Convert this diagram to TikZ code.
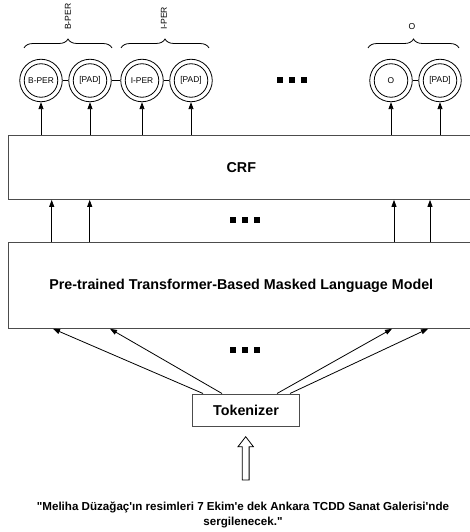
\documentclass[tikz,border=0pt]{standalone}
\usepackage{fontspec}
\setmainfont{Liberation Sans}
\usetikzlibrary{arrows.meta,decorations.pathreplacing}
\begin{document}
\begin{tikzpicture}[x=1pt,y=-1pt,
  box/.style={draw=black!70, line width=1pt, inner sep=0, font=\bfseries\fontsize{14.3}{17}\selectfont},
  outer/.style={circle, draw=black, line width=0.8pt, minimum size=42.5pt, inner sep=0},
  inner/.style={circle, draw=black, line width=0.8pt, minimum size=33.5pt, inner sep=0, font=\fontsize{8.4}{10}\selectfont},
  arr/.style={-{Triangle[length=7pt,width=5pt]}, line width=0.8pt},
  sq/.style={fill=black, minimum size=6pt, inner sep=0},
  lbl/.style={font=\fontsize{8.6}{10}\selectfont},
  brc/.style={decorate, decoration={brace, amplitude=9pt}, line width=0.8pt}
]
\useasboundingbox (0,0) rectangle (470,532);

% circles
\foreach \n/\x/\t in {1/41/B-PER,2/90/[PAD],3/142/I-PER,4/191/[PAD],5/391/O,6/440/[PAD]}{
  \node[outer] (c\n) at (\x,80.5) {};
  \node[inner] (i\n) at (\x,80.5) {\t};
}
\draw[line width=0.8pt] (c1) -- (c2);
\draw[line width=0.8pt] (c2) -- (c3);
\draw[line width=0.8pt] (c3) -- (c4);
\draw[line width=0.8pt] (c5) -- (c6);

% braces
\draw[brc] (24,48) -- (112,48);
\draw[brc] (121,48) -- (209,48);
\draw[brc] (368,48) -- (459,48);
\node[lbl, rotate=90, anchor=west, inner sep=1pt] (lb) at (68,31) {B-PER};
\node[lbl, rotate=90, anchor=west, inner sep=1pt] (li) at (164,31) {I-PER};
\node[lbl] (lo) at (412,27) {O};

% dots
\node[sq] (da1) at (280,80) {};
\node[sq] (da2) at (292,80) {};
\node[sq] (da3) at (304,80) {};
\node[sq] (db1) at (233,220) {};
\node[sq] (db2) at (245,220) {};
\node[sq] (db3) at (257,220) {};
\node[sq] (dc1) at (233,350) {};
\node[sq] (dc2) at (245,350) {};
\node[sq] (dc3) at (257,350) {};

% boxes
\node[box, minimum width=466pt, minimum height=64.3pt] (crf) at (241.3,167.2) {CRF};
\node[box, minimum width=466pt, minimum height=85.6pt] (plm) at (241.3,285.5) {Pre-trained Transformer-Based Masked Language Model};
\node[box, minimum width=106.6pt, minimum height=32pt] (tok) at (246,410) {Tokenizer};

% CRF -> circles
\foreach \n in {1,...,6}{
  \draw[arr] (c\n |- crf.north) -- (c\n.south);
}
% PLM -> CRF
\foreach \x in {51.7,89.7,394,430}{
  \coordinate (p) at (\x,0);
  \draw[arr] (plm.north -| p) -- (crf.south -| p);
}
% tokenizer -> PLM
\foreach \a/\b in {203/53,222/110,277/392,290/428}{
  \coordinate (s) at (\a,0);
  \coordinate (e) at (\b,0);
  \draw[arr] (tok.north -| s) -- (plm.south -| e);
}

% sentence
\node[font=\bfseries\fontsize{11.6}{15}\selectfont, align=center] (sent) at (243,515)
  {\textquotedbl Meliha Düzağaç\textquotesingle ın resimleri 7 Ekim\textquotesingle e dek Ankara TCDD Sanat Galerisi\textquotesingle nde\\ sergilenecek.\textquotedbl};

% hollow arrow
\draw[line width=0.8pt, fill=white] (242.3,480) -- (242.3,446.7) -- (238,446.7) -- (245.7,436.7) -- (253.4,446.7) -- (249.1,446.7) -- (249.1,480) -- cycle;
\end{tikzpicture}
\end{document}
